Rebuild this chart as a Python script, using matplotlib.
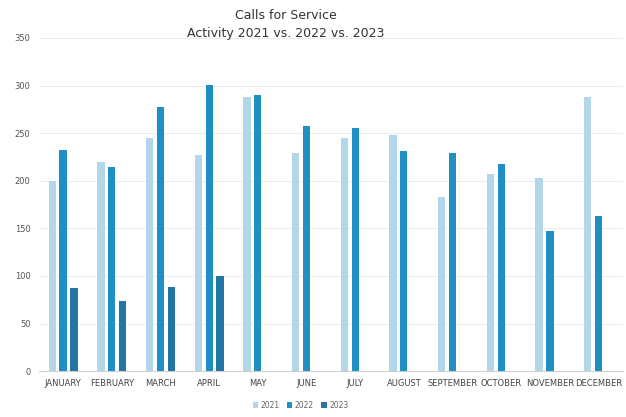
import matplotlib
matplotlib.use("Agg")
import matplotlib.pyplot as plt
import numpy as np

months = ["JANUARY", "FEBRUARY", "MARCH", "APRIL", "MAY", "JUNE", "JULY",
          "AUGUST", "SEPTEMBER", "OCTOBER", "NOVEMBER", "DECEMBER"]
calls_2021 = [200, 220, 245, 227, 288, 229, 245, 248, 183, 207, 203, 288]
calls_2022 = [232, 214, 277, 301, 290, 257, 255, 231, 229, 218, 147, 163]
calls_2023 = [87, 74, 88, 100]
series_names = ["2021", "2022", "2023"]
y_ticks = [0, 50, 100, 150, 200, 250, 300, 350]

colors = ["#b3d7e8", "#1f8fc4", "#2376a3"]

fig = plt.figure(figsize=(6.26, 4.17), dpi=100)
ax = fig.add_axes([0.062, 0.110, 0.933, 0.799])

x = np.arange(len(months))
off = 0.225
w = 0.15
ax.bar(x - off, calls_2021, w, color=colors[0], label=series_names[0], zorder=3)
ax.bar(x, calls_2022, w, color=colors[1], label=series_names[1], zorder=3)
ax.bar(x[:len(calls_2023)] + off, calls_2023, w, color=colors[2], label=series_names[2], zorder=3)

ax.set_xlim(-0.5, len(months) - 0.5)
ax.set_ylim(0, 350)
ax.set_yticks(y_ticks)
ax.set_yticklabels([str(v) for v in y_ticks], fontsize=6, color="#555555")
ax.set_xticks(x)
ax.set_xticklabels(months, fontsize=6, color="#444444")
ax.tick_params(axis="both", length=0, pad=6)
ax.grid(axis="y", color="#ececec", linewidth=0.7, zorder=0)
for s in ["top", "right", "left"]:
    ax.spines[s].set_visible(False)
ax.spines["bottom"].set_color("#d0d0d0")

fig.text(0.457, 0.963, "Calls for Service", ha="center", va="center",
         fontsize=9, color="#333333")
fig.text(0.457, 0.920, "Activity 2021 vs. 2022 vs. 2023", ha="center", va="center",
         fontsize=9, color="#333333")

fig.legend(loc="center", bbox_to_anchor=(0.48, 0.028), ncol=3, frameon=False,
           fontsize=5.5, handlelength=0.7, handleheight=0.7, columnspacing=1.0,
           handletextpad=0.3, labelcolor="#666666")

fig.savefig("out.png", dpi=100)
